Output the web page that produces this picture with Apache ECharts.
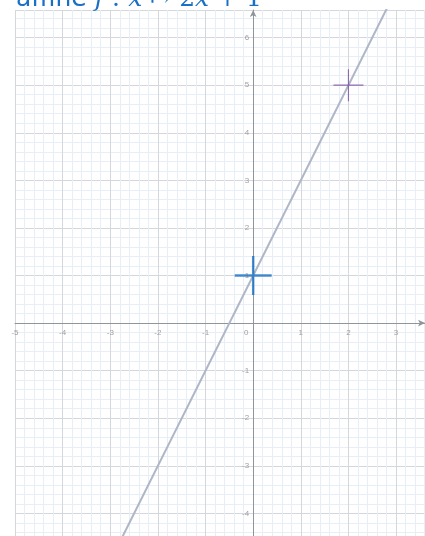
<!DOCTYPE html>
<html>
<head>
<meta charset="utf-8">
<script src="https://cdn.jsdelivr.net/npm/echarts@6/dist/echarts.min.js"></script>
<style>
  html, body { margin: 0; padding: 0; background: #fff; }
  #chart { width: 425px; height: 536px; }
</style>
</head>
<body>
<div id="chart"></div>
<script>
// f(x) = 2x + 1, two end points of the drawn segment
const lineX = [-3, 3];
const lineY = [-5, 7];
// marked points: (0, 1) intercept and (2, 5)
const interceptPt = [0, 1];
const otherPt = [2, 5];
// visible window
const xMin = -5, xMax = 3.607;
const yMin = -5, yMax = 6.58;

const gridLeft = 15, gridTop = 10, gridW = 410, gridH = 551;

const chart = echarts.init(document.getElementById('chart'));

const crossPath = 'path://M0,-1L0,1M-1,0L1,0';

// put each axis (line + labels) on the other axis' zero
const yAxisOffset = -gridW * (0 - xMin) / (xMax - xMin);
const xAxisOffset = -gridH * (0 - yMin) / (yMax - yMin);

function axisCommon() {
  return {
    type: 'value',
    interval: 1,
    splitNumber: 5,
    axisLine: {
      show: true,
      onZero: false,
      symbol: ['none', 'arrow'],
      symbolSize: [5, 7],
      lineStyle: { color: '#8f959b', width: 1 }
    },
    axisTick: { show: false },
    splitLine: { show: true, lineStyle: { color: '#d4d7db', width: 1 } },
    minorTick: { show: false, splitNumber: 5 },
    minorSplitLine: { show: true, lineStyle: { color: '#e7eef6', width: 1 } }
  };
}

const titleRich = {
  n: { fontFamily: 'DejaVu Sans', fontWeight: 'normal', fontSize: 25, color: '#1a70c5' },
  i: { fontFamily: 'DejaVu Serif', fontStyle: 'italic', fontWeight: 'normal', fontSize: 25, color: '#1a70c5' },
  r: { fontFamily: 'DejaVu Serif', fontWeight: 'normal', fontSize: 25, color: '#1a70c5' }
};

const option = {
  backgroundColor: '#ffffff',
  animation: false,
  title: {
    left: 11,
    top: -18,
    text: '{n|affine }{i|f}{r| : }{i|x}{r| ↦ 2}{i|x}{r| + 1}',
    textStyle: { fontWeight: 'normal', rich: titleRich }
  },
  grid: { left: gridLeft, top: gridTop, width: gridW, height: gridH, outerBoundsMode: 'none', containLabel: false },
  xAxis: Object.assign(axisCommon(), {
    position: 'bottom',
    offset: xAxisOffset,
    min: xMin,
    max: xMax,
    axisLabel: {
      showMinLabel: true,
      showMaxLabel: false,
      margin: 6,
      fontSize: 8,
      color: '#a0a0a0',
      formatter: function (v) { return v === 0 ? '{o|0}' : String(v); },
      rich: { o: { fontSize: 8, color: '#a0a0a0', padding: [0, 14, 0, 0] } }
    }
  }),
  yAxis: Object.assign(axisCommon(), {
    position: 'left',
    offset: yAxisOffset,
    min: yMin,
    max: yMax,
    axisLabel: {
      showMinLabel: false,
      showMaxLabel: false,
      margin: 4,
      fontSize: 8,
      color: '#a0a0a0',
      formatter: function (v) { return v === 0 ? '' : String(v); }
    }
  }),
  series: [
    {
      type: 'line',
      data: lineX.map((x, i) => [x, lineY[i]]),
      showSymbol: false,
      lineStyle: { color: '#aeb6c7', width: 2 },
      z: 3
    },
    {
      type: 'scatter',
      data: [interceptPt],
      symbol: crossPath,
      symbolSize: [37, 39],
      itemStyle: { color: 'transparent', borderColor: '#1c72c6', borderWidth: 2.5 },
      z: 5
    },
    {
      type: 'scatter',
      data: [otherPt],
      symbol: crossPath,
      symbolSize: [30, 32],
      itemStyle: { color: 'transparent', borderColor: '#7a4fa6', borderWidth: 1.2 },
      z: 5
    }
  ]
};

chart.setOption(option);
</script>
</body>
</html>
